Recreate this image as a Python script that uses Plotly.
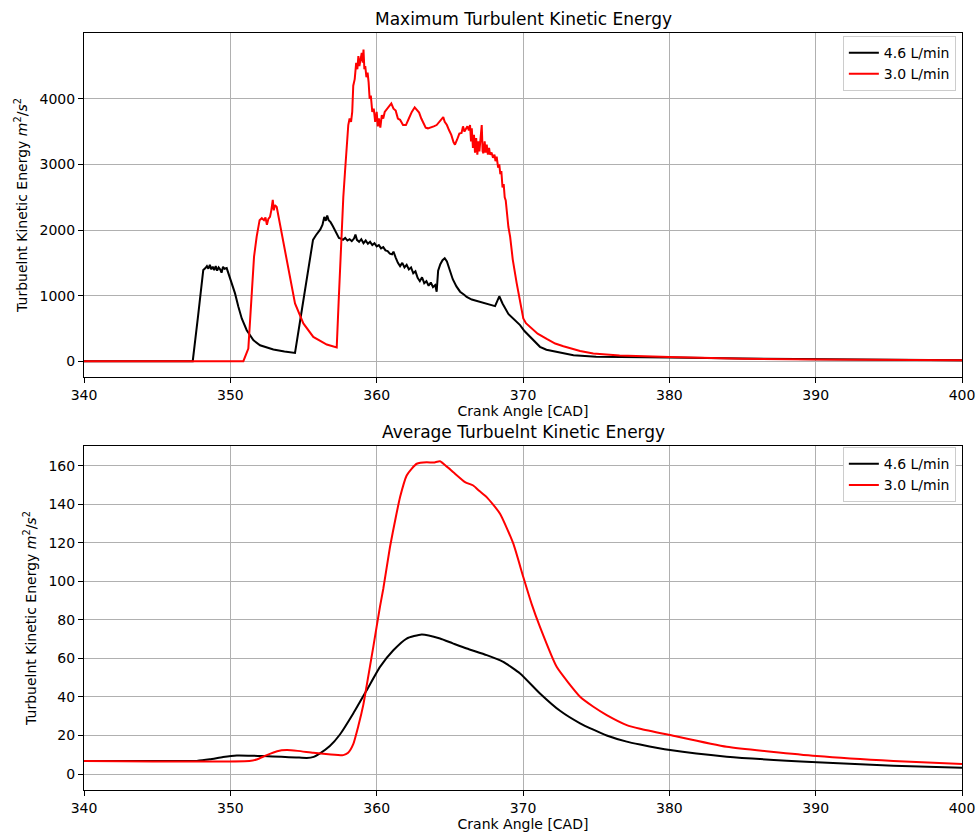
import plotly.graph_objects as go

# ---------------- data ----------------
x_ticks = [340, 350, 360, 370, 380, 390, 400]
y_ticks_max = [0, 1000, 2000, 3000, 4000]
y_ticks_avg = [0, 20, 40, 60, 80, 100, 120, 140, 160]
series_names = ["4.6 L/min", "3.0 L/min"]

# Maximum TKE, 4.6 L/min
cad_max_46 = [340, 347.43, 347.8, 348.15, 348.3, 348.4, 348.5, 348.6, 348.7, 348.8, 348.9, 349.0, 349.1, 349.2,
              349.3, 349.4, 349.5, 349.6, 349.75, 349.98, 350.32, 350.55, 350.78, 351.12, 351.57, 352.03, 352.94,
              353.7, 354.42, 354.9, 355.2, 355.5, 355.65, 355.85, 356.0, 356.15, 356.3, 356.42, 356.52, 356.62,
              356.72, 356.85, 357.0, 357.15, 357.3, 357.42, 357.55, 357.7, 357.85, 358.0, 358.15, 358.3, 358.45,
              358.55, 358.65, 358.8, 358.95, 359.1, 359.25, 359.4, 359.55, 359.7, 359.85, 360.0, 360.15, 360.3,
              360.45, 360.6, 360.75, 360.9, 361.05, 361.15, 361.3, 361.45, 361.6, 361.75, 361.9, 362.05, 362.2,
              362.35, 362.5, 362.65, 362.8, 362.95, 363.1, 363.25, 363.4, 363.55, 363.7, 363.85, 364.0, 364.1,
              364.2, 364.35, 364.5, 364.65, 364.8, 365.0, 365.2, 365.45, 365.7, 366.0, 366.15, 366.5, 367.06,
              367.5, 368.09, 368.38, 368.6, 369.0, 369.4, 369.8, 370.1, 370.48, 370.8, 371.16, 371.6, 372.31,
              373.45, 375.0, 377.0, 380.0, 385.0, 390.0, 395.0, 400.0]
tke_max_46 = [0, 0, 700, 1390, 1420, 1450, 1410, 1470, 1400, 1440, 1390, 1450, 1380, 1430,
              1400, 1350, 1440, 1410, 1420, 1262, 1034, 829, 652, 473, 321, 244, 179,
              150, 127, 800, 1200, 1600, 1850, 1920, 1960, 2010, 2080, 2200, 2140, 2220,
              2150, 2120, 2060, 2000, 1930, 1880, 1870, 1850, 1880, 1840, 1860, 1830, 1870,
              1930, 1850, 1820, 1860, 1800, 1840, 1790, 1820, 1770, 1800, 1750, 1770, 1720,
              1740, 1690, 1680, 1640, 1630, 1670, 1580, 1500, 1450, 1500, 1430, 1470, 1400,
              1430, 1340, 1370, 1270, 1220, 1280, 1190, 1220, 1150, 1200, 1130, 1160, 1060,
              1380, 1480, 1540, 1570, 1520, 1380, 1250, 1140, 1060, 1010, 980, 940, 906,
              880, 840, 990, 880, 720, 630, 550, 460, 371, 290, 220, 175, 142,
              92, 70, 60, 56, 40, 30, 22, 15]

# Maximum TKE, 3.0 L/min
cad_max_30 = [340, 350.89, 351.23, 351.45, 351.62, 351.8, 352.0, 352.15, 352.3, 352.4, 352.5, 352.6, 352.71,
              352.8, 352.9, 352.97, 353.05, 353.17, 353.3, 353.39, 353.85, 354.42, 354.99, 355.67, 356.59,
              357.27, 357.4, 357.5, 357.62, 357.72, 357.84, 357.95, 358.06, 358.15, 358.25, 358.33, 358.4,
              358.5, 358.6, 358.68, 358.75, 358.82, 358.9, 358.98, 359.05, 359.1, 359.16, 359.22, 359.3,
              359.38, 359.45, 359.52, 359.6, 359.7, 359.8, 359.9, 360.0, 360.08, 360.15, 360.25, 360.35,
              360.45, 360.55, 360.7, 360.85, 361.0, 361.15, 361.3, 361.45, 361.6, 361.8, 362.0, 362.2,
              362.4, 362.6, 362.75, 362.9, 363.05, 363.2, 363.35, 363.5, 363.7, 363.9, 364.1, 364.3,
              364.45, 364.55, 364.65, 364.8, 364.95, 365.1, 365.25, 365.35, 365.5, 365.65, 365.8, 365.9,
              366.0, 366.1, 366.2, 366.3, 366.38, 366.45, 366.5, 366.58, 366.65, 366.72, 366.8, 366.88,
              366.95, 367.02, 367.1, 367.18, 367.24, 367.3, 367.38, 367.45, 367.52, 367.6, 367.68, 367.75,
              367.85, 367.95, 368.05, 368.12, 368.2, 368.3, 368.38, 368.45, 368.52, 368.6, 368.68, 368.75,
              368.82, 368.9, 369.0, 369.12, 369.3, 369.57, 369.85, 370.02, 370.2, 370.48, 371.0, 371.62,
              372.2, 372.76, 373.9, 374.8, 376.6, 380.0, 385.0, 390.0, 400.0]
tke_max_30 = [0, 0, 194, 900, 1593, 1900, 2150, 2180, 2150, 2190, 2080, 2170, 2200,
              2300, 2460, 2300, 2380, 2350, 2200, 2100, 1593, 881, 576, 371, 255,
              210, 900, 1450, 2000, 2500, 2900, 3300, 3600, 3700, 3650, 3800, 4200,
              4300, 4550, 4450, 4650, 4500, 4600, 4700, 4550, 4750, 4450, 4500, 4330,
              4400, 4250, 4000, 4050, 3800, 3850, 3650, 3800, 3580, 3700, 3560, 3750,
              3700, 3800, 3850, 3900, 3930, 3850, 3820, 3700, 3680, 3600, 3600, 3700,
              3800, 3870, 3820, 3790, 3700, 3620, 3560, 3550, 3560, 3580, 3600, 3650,
              3700, 3720, 3650, 3600, 3520, 3450, 3340, 3300, 3380, 3470, 3480, 3580,
              3500, 3550, 3580, 3520, 3600, 3350, 3550, 3250, 3450, 3180, 3400, 3150,
              3350, 3200, 3400, 3600, 3200, 3170, 3350, 3180, 3300, 3150, 3250, 3150,
              3180, 3100, 3150, 3050, 3120, 2950, 3000, 2850, 2900, 2650, 2700, 2500,
              2450, 2250, 2050, 1900, 1550, 1186, 850, 652, 580, 524, 420, 340,
              270, 229, 157, 117, 87, 66, 38, 26, 15]

# Average TKE, 4.6 L/min
cad_avg_46 = [340, 346, 347.7, 348.6, 349.5, 350.44, 351.5, 352.25, 353.5, 354.5, 355.22, 355.7, 356.13,
              356.8, 357.49, 358.4, 359.32, 360.23, 361.14, 362.05, 363.08, 364.33, 365.2, 366.16, 367.52,
              368.65, 369.8, 371.16, 372.53, 373.9, 374.81, 375.72, 377.09, 378.0, 380.05, 383.92, 390.07,
              395.31, 400]
tke_avg_46 = [6.7, 6.7, 6.8, 7.6, 8.8, 9.6, 9.5, 9.3, 8.9, 8.6, 8.3, 8.9, 10.7,
              14.5, 20.5, 31.4, 43.5, 55.6, 64.2, 70.3, 72.4, 70.3, 67.8, 65.1, 61.7,
              58.2, 52.2, 41.8, 32.8, 26.3, 23.0, 20.0, 16.8, 15.3, 12.4, 9.0, 6.1,
              4.3, 3.3]

# Average TKE, 3.0 L/min
cad_avg_30 = [340, 351.3, 351.8, 352.49, 353.2, 353.85, 354.6, 355.67, 356.7, 357.72, 358.05, 358.4, 358.75,
              359.09, 359.32, 359.77, 360.23, 360.45, 360.91, 361.3, 361.6, 362.05, 362.4, 362.74, 363.42,
              363.9, 364.33, 364.8, 365.24, 366.04, 366.6, 367.0, 367.52, 368.43, 369.34, 370.02, 370.6,
              371.16, 372.3, 373.9, 374.81, 375.72, 377.09, 378.0, 380.05, 383.92, 390.07, 395.31, 400]
tke_avg_30 = [6.7, 6.7, 7.5, 9.8, 11.8, 12.4, 12.0, 11.0, 10.3, 9.8, 11.0, 15.5, 25,
              36, 46, 66, 87, 96, 117.8, 133, 143.7, 154.9, 158.5, 161, 161.8,
              161.6, 162.3, 159.5, 156.6, 151.5, 149.7, 147.0, 143.7, 135.1, 119.5, 102.2, 88,
              76.3, 55.6, 40.1, 34.9, 30.6, 25.4, 23.5, 20.2, 14.1, 9.3, 6.7, 5.2]

assert len(cad_max_46) == len(tke_max_46)
assert len(cad_max_30) == len(tke_max_30)
assert len(cad_avg_46) == len(tke_avg_46)
assert len(cad_avg_30) == len(tke_avg_30)

# ---------------- figure ----------------
FONT = "DejaVu Sans"
colors = ["black", "red"]

fig = go.Figure()
fig.add_trace(go.Scatter(x=cad_max_46, y=tke_max_46, mode="lines", name=series_names[0],
                         line=dict(color=colors[0], width=2), xaxis="x", yaxis="y", legend="legend"))
fig.add_trace(go.Scatter(x=cad_max_30, y=tke_max_30, mode="lines", name=series_names[1],
                         line=dict(color=colors[1], width=2), xaxis="x", yaxis="y", legend="legend"))
fig.add_trace(go.Scatter(x=cad_avg_46, y=tke_avg_46, mode="lines", name=series_names[0],
                         line=dict(color=colors[0], width=2, shape="spline", smoothing=0.5),
                         xaxis="x2", yaxis="y2", legend="legend2"))
fig.add_trace(go.Scatter(x=cad_avg_30, y=tke_avg_30, mode="lines", name=series_names[1],
                         line=dict(color=colors[1], width=2, shape="spline", smoothing=0.5),
                         xaxis="x2", yaxis="y2", legend="legend2"))

axis_style = dict(showgrid=True, gridcolor="#b0b0b0", gridwidth=1, showline=True, linecolor="black",
                  linewidth=1, mirror=True, ticks="outside", ticklen=5, tickwidth=1, tickcolor="black",
                  tickfont=dict(size=14, color="black", family=FONT), zeroline=False, automargin=False)

ytitle = "Turbuelnt Kinetic Energy <i>m</i><sup>2</sup>/<i>s</i><sup>2</sup>"
xtitle = "Crank Angle [CAD]"

fig.update_layout(
    width=978, height=835,
    margin=dict(l=84, r=16, t=33, b=45),
    paper_bgcolor="white", plot_bgcolor="white",
    font=dict(family=FONT, size=14, color="black"),
    xaxis=dict(domain=[0, 1], anchor="y", range=[340, 400], tickvals=x_ticks,
               ticktext=[str(v) for v in x_ticks],
               title=dict(text=xtitle, font=dict(size=14), standoff=2), **axis_style),
    yaxis=dict(domain=[0.5456, 1], anchor="x", range=[-240, 5003], tickvals=y_ticks_max,
               ticktext=[str(v) for v in y_ticks_max],
               title=dict(text=ytitle, font=dict(size=14), standoff=8), **axis_style),
    xaxis2=dict(domain=[0, 1], anchor="y2", range=[340, 400], tickvals=x_ticks,
                ticktext=[str(v) for v in x_ticks],
                title=dict(text=xtitle, font=dict(size=14), standoff=2), **axis_style),
    yaxis2=dict(domain=[0, 0.4544], anchor="x2", range=[-8.3, 170.2], tickvals=y_ticks_avg,
                ticktext=[str(v) for v in y_ticks_avg],
                title=dict(text=ytitle, font=dict(size=14), standoff=8), **axis_style),
    legend=dict(x=0.993, xanchor="right", y=0.996, yanchor="top", bgcolor="white",
                bordercolor="#cccccc", borderwidth=1, font=dict(size=14), itemwidth=30,
                tracegroupgap=0),
    legend2=dict(x=0.993, xanchor="right", y=0.453, yanchor="top", bgcolor="white",
                 bordercolor="#cccccc", borderwidth=1, font=dict(size=14), itemwidth=30,
                 tracegroupgap=0),
    annotations=[
        dict(text="Maximum Turbulent Kinetic Energy", xref="paper", yref="paper", x=0.5, y=1.0185,
             xanchor="center", yanchor="middle", showarrow=False, font=dict(size=17, family=FONT)),
        dict(text="Average Turbuelnt Kinetic Energy", xref="paper", yref="paper", x=0.5, y=0.4729,
             xanchor="center", yanchor="middle", showarrow=False, font=dict(size=17, family=FONT)),
    ],
)

fig.write_html("out.html", config={"displayModeBar": False},
               post_script="document.body.style.margin='0';document.body.style.overflow='hidden';")
